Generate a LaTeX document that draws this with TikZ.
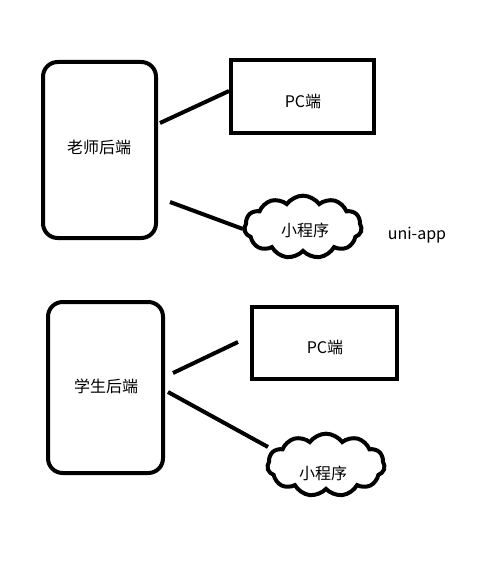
\documentclass[tikz,border=0pt]{standalone}
\usepackage{fontspec}
\setmainfont{Noto Sans CJK SC}
\usetikzlibrary{shapes.symbols}
\begin{document}
\begin{tikzpicture}[x=0.75pt,y=-0.75pt,
  thick line/.style={line width=3pt},
  backend/.style={draw,line width=3pt,rounded corners=11pt},
  pcbox/.style={draw,line width=3pt},
  cloudbox/.style={draw,line width=3pt,cloud,cloud puffs=11,cloud puff arc=110,aspect=2.2,inner sep=0pt,minimum width=88pt,minimum height=47pt},
  lbl/.style={font=\fontsize{12pt}{14pt}\selectfont}]
\useasboundingbox (0,0) rectangle (485,567);
% teacher
\draw[backend] (43,62) rectangle (156,238);
\node[lbl] (t) at (99,147) {老师后端};
\draw[pcbox] (231,60) rectangle (374,133);
\node[lbl] (tpc) at (303,101) {PC端};
\node[cloudbox] (tc) at (303,227) {};
\node[lbl] (tmp) at (305,230) {小程序};
\node[lbl] (uni) at (417,235) {uni-app};
\coordinate (a1) at (160,123);
\coordinate (a2) at (229,91);
\coordinate (b1) at (170,202);
\coordinate (b2) at (243,229);
\draw[thick line] (a1) -- (a2);
\draw[thick line] (b1) -- (b2);
% student
\draw[backend] (48,302) rectangle (163,473);
\node[lbl] (s) at (106,386) {学生后端};
\draw[pcbox] (252,307) rectangle (397,379);
\node[lbl] (spc) at (325,347) {PC端};
\node[cloudbox] (sc) at (326,465) {};
\node[lbl] (smp) at (323,473) {小程序};
\coordinate (c1) at (173,373);
\coordinate (c2) at (238,342);
\coordinate (d1) at (168,392);
\coordinate (d2) at (268,447);
\draw[thick line] (c1) -- (c2);
\draw[thick line] (d1) -- (d2);
\end{tikzpicture}
\end{document}
